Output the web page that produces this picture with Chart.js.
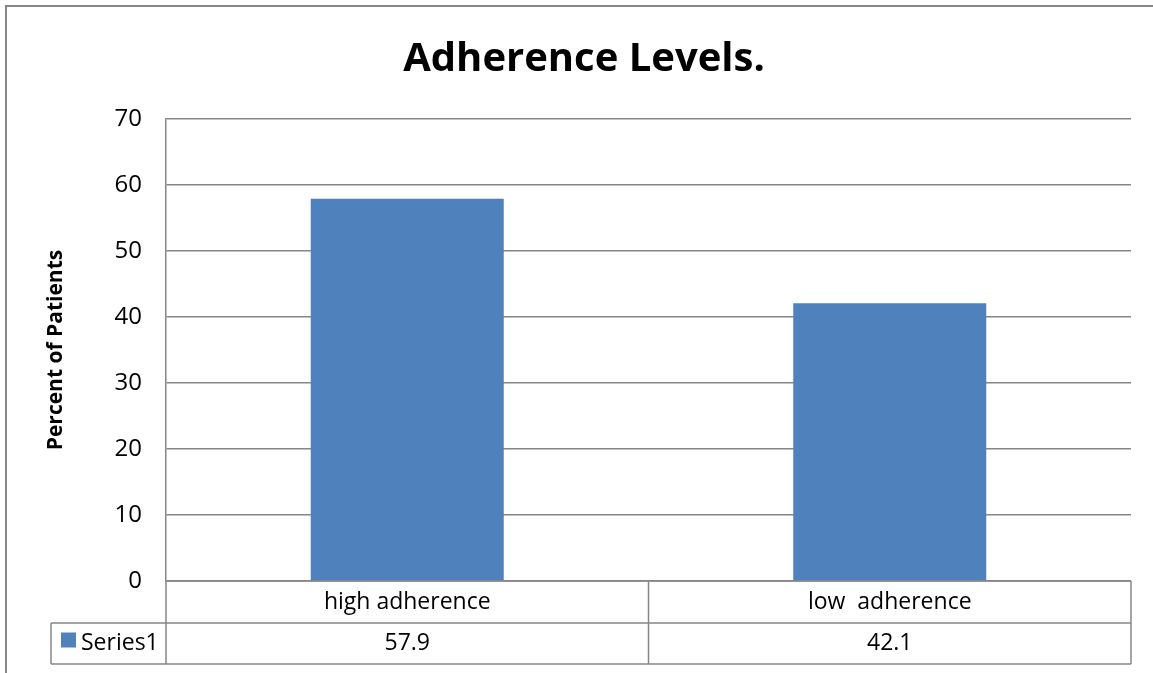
<!DOCTYPE html>
<html lang="en">
<head>
  <meta charset="UTF-8">
  <title>Adherence Levels</title>
  <style>
    body { margin: 0; background: #fff; }
  </style>
</head>
<body>
  <canvas id="myChart" width="1153" height="673"></canvas>
</body>
<script src="https://cdn.jsdelivr.net/npm/chart.js@4.4.0/dist/chart.umd.min.js"></script>
<script>
const categories = ['high adherence', 'low  adherence'];
const series1 = [57.9, 42.1];
const seriesName = 'Series1';
const yTicks = [0, 10, 20, 30, 40, 50, 60, 70];

const FONT = '"Open Sans", Lato, sans-serif';
const GREY = '#868686';
const BLUE = '#4F81BD';

// frame, title and the data table under the plot
const extras = {
  id: 'extras',
  beforeDraw(chart) {
    const c = chart.ctx;
    c.save();
    c.strokeStyle = GREY;
    c.lineWidth = 2;
    c.beginPath();
    c.moveTo(6, chart.height + 5);
    c.lineTo(6, 6);
    c.lineTo(chart.width + 5, 6);
    c.stroke();
    c.restore();
  },
  afterDraw(chart) {
    const c = chart.ctx;
    const a = chart.chartArea;
    const x = chart.scales.x;
    const ds = chart.data.datasets[0];
    const n = chart.data.labels.length;
    const r1 = a.bottom + 42, r2 = r1 + 41;
    const keyLeft = 51;
    c.save();
    // title
    c.fillStyle = '#000';
    c.font = 'bold 40px ' + FONT;
    c.textAlign = 'center';
    c.textBaseline = 'alphabetic';
    c.fillText('Adherence Levels.', 584, 71);

    // table lines
    c.strokeStyle = GREY;
    c.lineWidth = 1.5;
    c.beginPath();
    c.moveTo(a.left, a.bottom); c.lineTo(a.right, a.bottom);
    c.moveTo(keyLeft, r1); c.lineTo(a.right, r1);
    c.moveTo(keyLeft, r2); c.lineTo(a.right, r2);
    c.moveTo(keyLeft, r1); c.lineTo(keyLeft, r2);
    c.moveTo(a.left, a.bottom); c.lineTo(a.left, r2);
    c.moveTo(a.right, a.bottom); c.lineTo(a.right, r2);
    for (let i = 0; i < n - 1; i++) {
      const sx = (x.getPixelForValue(i) + x.getPixelForValue(i + 1)) / 2;
      c.moveTo(sx, a.bottom); c.lineTo(sx, r2);
    }
    c.stroke();

    // texts
    c.fillStyle = '#000';
    c.font = '23px ' + FONT;
    c.textBaseline = 'middle';
    for (let i = 0; i < n; i++) {
      const px = x.getPixelForValue(i);
      c.fillText(chart.data.labels[i], px, (a.bottom + r1) / 2);
      c.fillText(String(ds.data[i]), px, (r1 + r2) / 2);
    }
    // legend key
    c.fillStyle = ds.backgroundColor;
    c.fillRect(61, (r1 + r2) / 2 - 11, 15, 15);
    c.fillStyle = '#000';
    c.textAlign = 'left';
    c.fillText(ds.label, 81, (r1 + r2) / 2);
    c.restore();
  }
};

const ctx = document.getElementById('myChart').getContext('2d');
new Chart(ctx, {
  type: 'bar',
  data: {
    labels: categories,
    datasets: [{
      label: seriesName,
      data: series1,
      backgroundColor: BLUE,
      barPercentage: 0.4,
      categoryPercentage: 1
    }]
  },
  options: {
    responsive: false,
    animation: false,
    events: [],
    layout: { padding: { top: 119, bottom: 92, left: 39, right: 22 } },
    plugins: {
      legend: { display: false },
      title: { display: false },
      tooltip: { enabled: false }
    },
    scales: {
      x: { display: false },
      y: {
        min: 0,
        max: 70,
        afterFit(scale) { scale.width = 127; },
        afterBuildTicks(scale) { scale.ticks = yTicks.map(v => ({ value: v })); },
        border: { display: true, color: GREY, width: 1.5 },
        grid: { color: GREY, lineWidth: 1.5, drawTicks: false },
        ticks: {
          padding: 24,
          color: '#000',
          font: { family: FONT, size: 24 }
        },
        title: {
          display: true,
          text: 'Percent of Patients',
          color: '#000',
          font: { family: FONT, size: 21, weight: 'bold' }
        }
      }
    }
  },
  plugins: [extras]
});
</script>
</html>
